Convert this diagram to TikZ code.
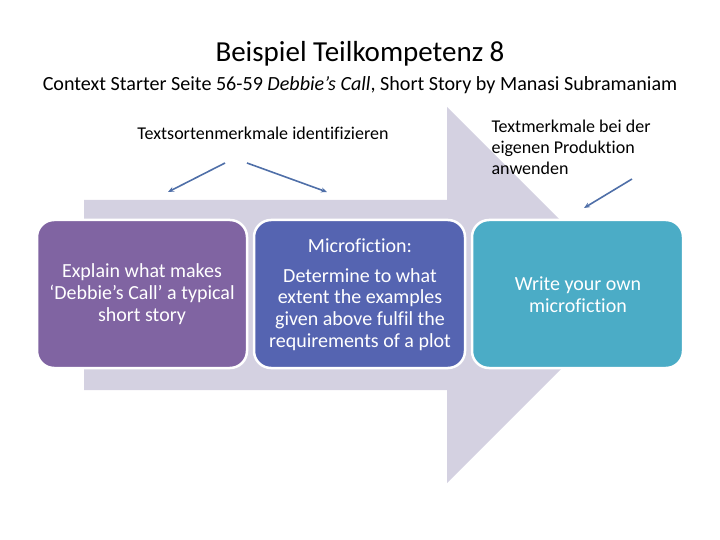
\documentclass[tikz,border=0pt]{standalone}
\usepackage{fontspec}
\usetikzlibrary{arrows.meta}
\setmainfont{Carlito}[Ligatures=NoCommon]
\definecolor{arrowgray}{HTML}{D4D1E1}
\definecolor{boxpurple}{HTML}{8064A2}
\definecolor{boxblue}{HTML}{5564B1}
\definecolor{boxaqua}{HTML}{4BACC6}
\definecolor{linkblue}{HTML}{4F6FA8}
\begin{document}
\begin{tikzpicture}[x=1pt,y=-1pt,
  stagebox/.style={draw=white,line width=2.5pt,rounded corners=17pt},
  boxtext/.style={text=white,align=center,font=\fontsize{20}{21.8}\selectfont},
  pointer/.style={draw=linkblue,line width=1.6pt,-{Stealth[length=6pt,width=5pt]}},
  labeltext/.style={font=\fontsize{18}{21}\selectfont}]
\useasboundingbox (0,0) rectangle (720,540);
% big arrow
\fill[arrowgray] (84,200) -- (447,200) -- (447,107) -- (635,295) -- (447,483) -- (447,390) -- (84,390) -- cycle;
% boxes
\filldraw[stagebox,fill=boxpurple] (37,220) rectangle (247,368);
\filldraw[stagebox,fill=boxblue] (254,220) rectangle (465,368);
\filldraw[stagebox,fill=boxaqua] (472,220) rectangle (683,368);
\node (b1) [boxtext] at (142,294) {Explain what makes\\‘Debbie’s Call’ a typical\\short story};
\node (b2a) [boxtext] at (360,246) {Microfiction:};
\node (b2) [boxtext] at (360,309.5) {Determine to what\\extent the examples\\given above fulfil the\\requirements of a plot};
\node (b3) [boxtext] at (578,294.5) {Write your own\\microfiction};
% titles
\node (title) at (360,54) {\fontsize{29}{32}\selectfont Beispiel Teilkompetenz 8};
\node (sub) at (360,85) {\fontsize{20.1}{24}\selectfont Context Starter Seite 56-59 \textit{Debbie’s Call}, Short Story by Manasi Subramaniam};
% labels
\node (l1) [labeltext] at (263,133) {Textsortenmerkmale identifizieren};
\node (l2) [labeltext,align=left,anchor=north west] at (488,116) {Textmerkmale bei der\\eigenen Produktion\\anwenden};
% pointers
\coordinate (p1s) at (225,163);
\coordinate (p1e) at (168,192);
\coordinate (p2s) at (247,163);
\coordinate (p2e) at (327,192);
\coordinate (p3s) at (632,179);
\coordinate (p3e) at (584,208);
\draw[pointer] (p1s) -- (p1e);
\draw[pointer] (p2s) -- (p2e);
\draw[pointer] (p3s) -- (p3e);
\end{tikzpicture}
\end{document}
